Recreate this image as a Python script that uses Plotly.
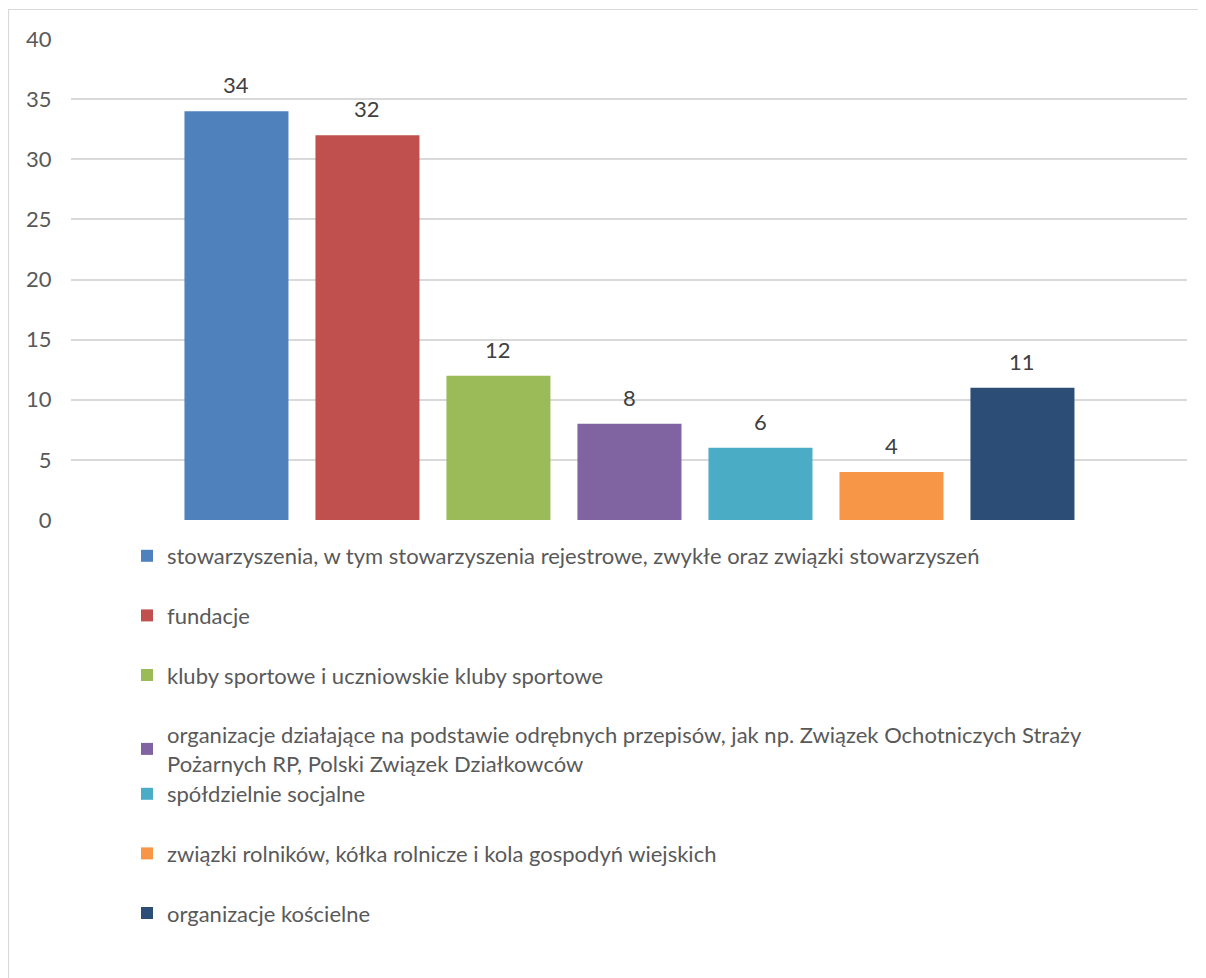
import plotly.graph_objects as go

categories = [
    "stowarzyszenia, w tym stowarzyszenia rejestrowe, zwykłe oraz związki stowarzyszeń",
    "fundacje",
    "kluby sportowe i uczniowskie kluby sportowe",
    "organizacje działające na podstawie odrębnych przepisów, jak np. Związek Ochotniczych Straży<br>Pożarnych RP, Polski Związek Działkowców",
    "spółdzielnie socjalne",
    "związki rolników, kółka rolnicze i kola gospodyń wiejskich",
    "organizacje kościelne",
]
values = [34, 32, 12, 8, 6, 4, 11]
colors = ["#4F81BD", "#C0504D", "#9BBB59", "#8064A2", "#4BACC6", "#F79646", "#2C4D75"]
legend_ids = ["legend", "legend", "legend", "legend", "legend2", "legend2", "legend2"]
y_ticks = [0, 5, 10, 15, 20, 25, 30, 35, 40]

FONT = "Lato"
FS = 22
OFF = 8  # page body margin
W, H = 1206 - OFF, 978 - OFF
L, T = 71 - OFF, 39 - OFF
R = W - (1187 - OFF)
B = H - (520 - OFF)
PW, PH = W - L - R, H - T - B

def px_x(p):
    return (p - OFF - L) / PW

def px_y(p):
    return (H - B - (p - OFF)) / PH

fig = go.Figure()
for i, (cat, val, col, lg) in enumerate(zip(categories, values, colors, legend_ids)):
    fig.add_trace(go.Bar(
        x=[i], y=[val], name=cat, marker=dict(color=col, line=dict(width=0)),
        width=[0.794], legend=lg, legendgroup=f"g{i}", hoverinfo="y",
    ))
    fig.add_annotation(x=i, y=val, text=str(val), showarrow=False, yanchor="bottom",
                       yshift=11, font=dict(family=FONT, size=FS, color="#404040"))

fig.update_layout(
    width=W, height=H,
    margin=dict(l=L, r=R, t=T, b=B),
    paper_bgcolor="white", plot_bgcolor="white",
    barmode="overlay",
    font=dict(family=FONT, size=FS, color="#595959"),
    xaxis=dict(range=[-1.263, 7.256], showticklabels=False, showgrid=False,
               zeroline=False, showline=False, ticks=""),
    yaxis=dict(range=[0, 40], tickvals=y_ticks, showgrid=True, gridcolor="#D9D9D9",
               gridwidth=1.5, zeroline=False, showline=False, ticks="outside",
               ticklen=14, tickcolor="rgba(0,0,0,0)",
               tickfont=dict(family=FONT, size=FS, color="#595959")),
    legend=dict(x=px_x(127), y=px_y(535), xanchor="left", yanchor="top",
                orientation="v", tracegroupgap=28, font=dict(family=FONT, size=FS, color="#595959"),
                bgcolor="rgba(0,0,0,0)"),
    legend2=dict(x=px_x(127), y=px_y(773), xanchor="left", yanchor="top",
                 orientation="v", tracegroupgap=28, font=dict(family=FONT, size=FS, color="#595959"),
                 bgcolor="rgba(0,0,0,0)"),
    shapes=[dict(type="rect", xref="paper", yref="paper",
                 x0=px_x(8.5), x1=px_x(1300), y0=px_y(1100), y1=px_y(9.5),
                 line=dict(color="#D9D9D9", width=1.2), fillcolor="rgba(0,0,0,0)", layer="below")],
    showlegend=True,
)

fig.write_html("out.html")
